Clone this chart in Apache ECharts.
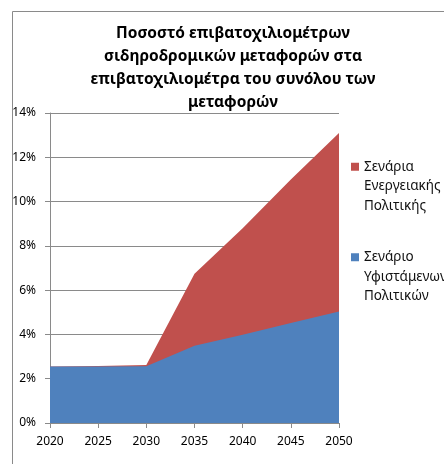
<!DOCTYPE html>
<html>
<head>
<meta charset="utf-8">
<script src="https://cdn.jsdelivr.net/npm/echarts@6/dist/echarts.min.js"></script>
<style>html,body{margin:0;padding:0;background:#fff;}#c{width:444px;height:464px;}</style>
</head>
<body>
<div id="c"></div>
<script>
const years = ['2020', '2025', '2030', '2035', '2040', '2045', '2050'];
const energyPolicy = [2.55, 2.57, 2.62, 6.74, 8.8, 11.0, 13.1];
const existingPolicies = [2.55, 2.55, 2.56, 3.49, 3.99, 4.52, 5.04];
const yTicks = [0, 2, 4, 6, 8, 10, 12, 14];
const titleText = 'Ποσοστό επιβατοχιλιομέτρων\nσιδηροδρομικών μεταφορών στα\nεπιβατοχιλιομέτρα του συνόλου των\nμεταφορών';
const seriesNames = ['Σενάρια\nΕνεργειακής\nΠολιτικής', 'Σενάριο\nΥφιστάμενων\nΠολιτικών'];

const chart = echarts.init(document.getElementById('c'), null, {renderer: 'canvas'});
const font = 'Noto Sans';
chart.setOption({
  animation: false,
  backgroundColor: '#fff',
  graphic: [{
    type: 'rect', silent: true,
    shape: {x: 12.5, y: 11.5, width: 600, height: 600},
    style: {fill: 'none', stroke: '#8a8a8a', lineWidth: 1}
  }],
  title: {
    text: titleText,
    left: 233, top: 22, textAlign: 'center', padding: 0,
    textStyle: {fontFamily: font, fontWeight: 'bold', fontSize: 15.5, lineHeight: 23, color: '#000'}
  },
  legend: {
    orient: 'vertical', left: 351, top: 118, padding: 0,
    itemWidth: 8, itemHeight: 8, itemGap: -7,
    icon: 'rect',
    formatter: name => '\n\n' + name,
    textStyle: {fontFamily: font, fontSize: 13.5, lineHeight: 19.5, color: '#111'},
    data: seriesNames
  },
  grid: {left: 50, right: 105, top: 113, bottom: 41, containLabel: false},
  xAxis: {
    type: 'category', data: years, boundaryGap: false,
    axisLine: {lineStyle: {color: '#8a8a8a'}},
    axisTick: {show: true, length: 5, lineStyle: {color: '#8a8a8a'}},
    axisLabel: {fontFamily: font, fontSize: 12, color: '#000', margin: 13}
  },
  yAxis: {
    type: 'value', min: 0, max: 14, interval: 2,
    axisLine: {show: true, lineStyle: {color: '#8a8a8a'}},
    axisTick: {show: true, length: 5, lineStyle: {color: '#8a8a8a'}},
    splitLine: {show: true, lineStyle: {color: '#8a8a8a'}},
    axisLabel: {fontFamily: font, fontSize: 12, color: '#000', margin: 14,
      formatter: v => yTicks.includes(v) ? v + '%' : ''}
  },
  series: [
    {name: seriesNames[0], type: 'line', data: energyPolicy, symbol: 'none',
      lineStyle: {width: 0}, areaStyle: {color: '#C0504D', opacity: 1}, itemStyle: {color: '#C0504D'}, z: 2},
    {name: seriesNames[1], type: 'line', data: existingPolicies, symbol: 'none',
      lineStyle: {width: 0}, areaStyle: {color: '#4F81BD', opacity: 1}, itemStyle: {color: '#4F81BD'}, z: 3}
  ]
});
</script>
</body>
</html>
